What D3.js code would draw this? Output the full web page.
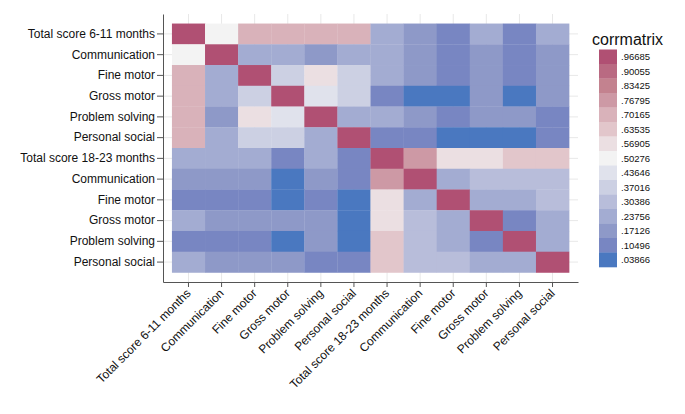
<!DOCTYPE html>
<html><head><meta charset="utf-8">
<script src="https://cdn.jsdelivr.net/npm/d3@7"></script>
<style>body{margin:0;background:#fff}svg{display:block}text{font-family:"Liberation Sans",Arial,Helvetica,sans-serif}</style>
</head><body>
<svg id="c" width="685" height="414"></svg>
<script>
const variables = ["Total score 6-11 months","Communication","Fine motor","Gross motor","Problem solving","Personal social",
  "Total score 18-23 months","Communication","Fine motor","Gross motor","Problem solving","Personal social"];
// correlation matrix (rows top to bottom, columns left to right)
const corr = [
  [1.00,0.50,0.70,0.70,0.70,0.70,0.24,0.17,0.10,0.24,0.10,0.24],
  [0.50,1.00,0.24,0.24,0.17,0.24,0.24,0.17,0.10,0.17,0.10,0.17],
  [0.70,0.24,1.00,0.37,0.57,0.37,0.24,0.17,0.10,0.17,0.10,0.17],
  [0.70,0.24,0.37,1.00,0.44,0.37,0.10,0.04,0.04,0.17,0.04,0.17],
  [0.70,0.17,0.57,0.44,1.00,0.24,0.24,0.17,0.10,0.17,0.17,0.10],
  [0.70,0.24,0.37,0.37,0.24,1.00,0.10,0.10,0.04,0.04,0.04,0.10],
  [0.24,0.24,0.24,0.10,0.24,0.10,1.00,0.77,0.57,0.57,0.64,0.64],
  [0.17,0.17,0.17,0.04,0.17,0.10,0.77,1.00,0.24,0.30,0.30,0.30],
  [0.10,0.10,0.10,0.04,0.10,0.04,0.57,0.24,1.00,0.24,0.24,0.30],
  [0.24,0.17,0.17,0.17,0.17,0.04,0.57,0.30,0.24,1.00,0.10,0.24],
  [0.10,0.10,0.10,0.04,0.17,0.04,0.64,0.30,0.24,0.10,1.00,0.24],
  [0.24,0.17,0.17,0.17,0.10,0.10,0.64,0.30,0.30,0.24,0.24,1.00]
];
const legendLabels = [".96685",".90055",".83425",".76795",".70165",".63535",".56905",".50276",
  ".43646",".37016",".30386",".23756",".17126",".10496",".03866"];
// palette low -> high
const palette = ["#4a78c0","#7886c2","#8e99c8","#a3acd2","#b8bdda","#ccd0e3","#e0e2ec","#f3f3f3",
  "#ebdfe2","#e2c6cb","#d9b2ba","#cd99a5","#c3828f","#b96a82","#b05073"];
const legendTitle = "corrmatrix";

const svg = d3.select("#c");
const n = variables.length;
const idx = d3.range(n);
const x = d3.scaleBand().domain(idx).range([163,578]).paddingOuter(0.27).paddingInner(0);
const y = d3.scaleBand().domain(idx).range([14,282]).paddingOuter(0.46).paddingInner(0);
const color = d3.scaleQuantize().domain([0.0055,1]).range(palette);

// gridlines
const g = svg.append("g");
g.selectAll("line.gx").data(idx).join("line")
  .attr("x1",d=>x(d)+x.bandwidth()/2).attr("x2",d=>x(d)+x.bandwidth()/2)
  .attr("y1",14).attr("y2",282).attr("stroke","#e8e8e8").attr("stroke-width",1);
g.selectAll("line.gy").data(idx).join("line")
  .attr("y1",d=>y(d)+y.bandwidth()/2).attr("y2",d=>y(d)+y.bandwidth()/2)
  .attr("x1",163).attr("x2",578).attr("stroke","#e8e8e8").attr("stroke-width",1);

// cells
const cells = [];
corr.forEach((row,i)=>row.forEach((v,j)=>cells.push({i,j,v})));
svg.append("g").selectAll("rect").data(cells).join("rect")
  .attr("x",d=>x(d.j)).attr("y",d=>y(d.i))
  .attr("width",x.bandwidth()+0.3).attr("height",y.bandwidth()+0.3)
  .attr("fill",d=>color(d.v));

// axes
const ax = svg.append("g").attr("transform","translate(0,282)")
  .call(d3.axisBottom(x).tickFormat(d=>variables[d]).tickSize(5).tickSizeOuter(0));
ax.select(".domain").attr("stroke","#555");
ax.selectAll(".tick line").attr("stroke","#555");
ax.selectAll(".tick text").attr("font-size",12).attr("fill","#111")
  .attr("text-anchor","end").attr("dx",0).attr("dy",0)
  .attr("transform","translate(3,12) rotate(-45)").attr("y",0).attr("x",0);

const ay = svg.append("g").attr("transform","translate(163,0)")
  .call(d3.axisLeft(y).tickFormat(d=>variables[d]).tickSize(6).tickSizeOuter(0));
ay.select(".domain").attr("stroke","#555");
ay.selectAll(".tick line").attr("stroke","#555");
ay.selectAll(".tick text").attr("font-size",12).attr("fill","#111").attr("x",-8);

// legend
const lg = svg.append("g");
lg.append("text").attr("x",592).attr("y",45).attr("font-size",16).attr("fill","#111").text(legendTitle);
const sh = 14.5;
const mids = legendLabels.map((l,k)=>({l, c: palette[palette.length-1-k], k}));
lg.selectAll("rect").data(mids).join("rect")
  .attr("x",599).attr("y",d=>49.5+d.k*sh).attr("width",18).attr("height",sh+0.3)
  .attr("fill",d=>d.c);
lg.selectAll("text.l").data(mids).join("text").attr("class","l")
  .attr("x",621).attr("y",d=>49.5+d.k*sh+sh/2).attr("dy","0.35em")
  .attr("font-size",9.5).attr("fill","#111").text(d=>d.l);
</script>
</body></html>
